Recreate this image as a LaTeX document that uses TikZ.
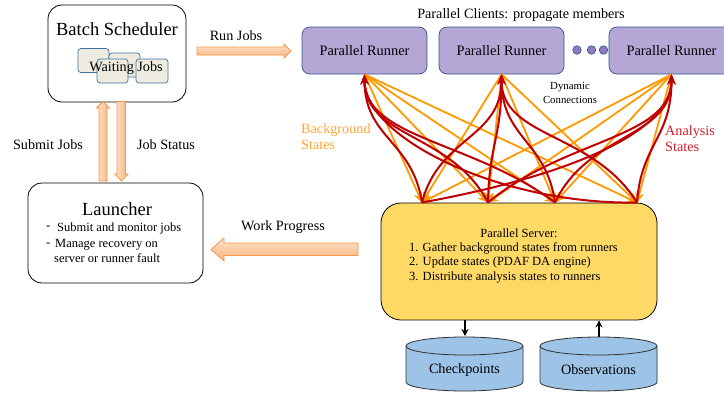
\documentclass[tikz,border=0pt]{standalone}
\usepackage{fontspec}
\setmainfont{Liberation Serif}
\usetikzlibrary{arrows.meta,calc}
\definecolor{runfill}{HTML}{B4A7D6}
\definecolor{runedge}{HTML}{2F528F}
\definecolor{srvfill}{HTML}{FFD966}
\definecolor{cylfill}{HTML}{9DC3E6}
\definecolor{wjfill}{HTML}{EEECE1}
\definecolor{wjedge}{HTML}{41719C}
\definecolor{bgorange}{HTML}{FF9900}
\definecolor{anred}{HTML}{C00000}
\definecolor{antext}{HTML}{D0202A}
\definecolor{bgtext}{HTML}{FFA533}
\definecolor{fattop}{HTML}{FDE3CC}
\definecolor{fatbot}{HTML}{F9B37C}
\definecolor{fatedge}{HTML}{F79646}
\definecolor{dotfill}{HTML}{8E7CC3}
\tikzset{
  bigbox/.style={draw=black, line width=0.8pt, rounded corners=14pt, fill=white, inner sep=0pt},
  runner/.style={draw=runedge, fill=runfill, rounded corners=8pt, minimum width=125pt, minimum height=47pt, inner sep=0pt, font=\fontsize{14.4}{16}\selectfont, line width=0.7pt},
  wjbox/.style={draw=wjedge, fill=wjfill, rounded corners=3pt, minimum width=31pt, minimum height=24pt, line width=0.7pt, inner sep=0pt},
  lbl/.style={font=\fontsize{14.2}{16}\selectfont, inner sep=0pt},
  bigtitle/.style={font=\fontsize{18.5}{20}\selectfont, inner sep=0pt},
  smalltxt/.style={font=\fontsize{12.5}{14}\selectfont, inner sep=0pt},
  tinytxt/.style={font=\fontsize{10.8}{12}\selectfont, inner sep=0pt},
  bgline/.style={draw=bgorange, line width=1.8pt, -{Stealth[length=10pt,width=9pt]}},
  anline/.style={draw=anred, line width=2pt, -{Stealth[length=10pt,width=8pt]}},
  fatarrowh/.style={draw=fatedge, top color=fattop, bottom color=fatbot, line width=0.8pt},
  fatarrowv/.style={draw=fatedge, left color=fattop, right color=fatbot, line width=0.8pt},
  cyl/.style={draw=black!80, fill=cylfill, line width=0.8pt},
  blk/.style={draw=black, line width=1.6pt, -{Stealth[length=7pt,width=7pt]}},
  pdot/.style={circle, draw=runedge, fill=dotfill, minimum size=8.5pt, inner sep=0pt, line width=0.6pt}
}
\begin{document}
\begin{tikzpicture}[x=1pt,y=-1pt]
\useasboundingbox (0,0) rectangle (724,392);
\clip (0,0) rectangle (724,392);

% Batch scheduler
\node[bigbox, minimum width=138pt, minimum height=97pt] (sched) at (117,53.5) {};
\node[bigtitle] (schedt) at (117,29) {Batch Scheduler};
\node[wjbox] (wj1) at (93.5,60.5) {};
\node[wjbox] (wj2) at (124.5,65) {};
\node[wjbox] (wj3) at (112.5,71) {};
\node[wjbox, minimum width=32pt] (wj4) at (152,71) {};
\node[lbl] (wjt) at (126,68) {Waiting Jobs};

% Launcher
\node[bigbox, minimum width=175pt, minimum height=100pt] (launch) at (115.5,233) {};
\node[bigtitle] (launcht) at (117,209) {Launcher};
\node[smalltxt, anchor=west] (d1) at (46,228) {-};
\node[smalltxt, anchor=west] (b1) at (57,228) {Submit and monitor jobs};
\node[smalltxt, anchor=west] (d2) at (46,244.5) {-};
\node[smalltxt, anchor=west] (b2) at (55,244.5) {Manage recovery on};
\node[smalltxt, anchor=west] (b3) at (54,258) {server or runner fault};

% Runners
\node[lbl] (clients) at (521,15) {Parallel Clients: propagate members};
\node[runner] (r1) at (364.5,50.5) {Parallel Runner};
\node[runner] (r2) at (501.5,50.5) {Parallel Runner};
\node[runner] (r3) at (671.5,50.5) {Parallel Runner};
\node[pdot] (p1) at (577,50) {};
\node[pdot] (p2) at (591.5,50) {};
\node[pdot] (p3) at (603.5,50) {};
\node[tinytxt] (dyn1) at (570,87) {Dynamic};
\node[tinytxt] (dyn2) at (570,100) {Connections};

% Server
\node[draw=black, line width=0.8pt, fill=srvfill, rounded corners=20pt, minimum width=276pt, minimum height=117pt] (server) at (519,261.5) {};
\node[smalltxt] (srvt) at (519,233) {Parallel Server:};
\node[smalltxt, anchor=west] (l1) at (409,248) {1. Gather background states from runners};
\node[smalltxt, anchor=west] (l2) at (409,263) {2. Update states (PDAF DA engine)};
\node[smalltxt, anchor=west] (l3) at (409,278) {3. Distribute analysis states to runners};

\coordinate (s1) at (422,202.5);
\coordinate (s2) at (488,202.5);
\coordinate (s3) at (555,202.5);
\coordinate (s4) at (637,202.5);

% Background states (runners -> server)
\foreach \r in {r1,r2,r3}{
  \foreach \s in {s1,s2,s3,s4}{
    \draw[bgline] (\r.south) -- (\s);
  }
}
% Analysis states (server -> runners)
\foreach \r in {r1,r2,r3}{
  \foreach \s in {s1,s2,s3,s4}{
    \draw[anline] let \p1=(\s), \p2=(\r.south),
        \n1={80*(abs(\x2-\x1)/250)^1.5},
        \n2={90-sign(\x2-\x1)*\n1},
        \n3={veclen(\x2-\x1,\y2-\y1)} in
      (\p1) .. controls ({\x1+0.45*\n3*cos(\n2)},{\y1+0.45*\n3*sin(\n2)}) and ({\x2},{\y2-0.5*(\y2-\y1)}) .. (\p2);
  }
}
\node[lbl, text=bgtext, align=left, anchor=north west] (bgt) at (301,123) {Background\\States};
\node[lbl, text=antext, align=left, anchor=north west] (ant) at (665,125) {Analysis\\States};

% Cylinders
\fill[cylfill] (406,346) -- (406,382) arc[start angle=180, end angle=360, x radius=58.5pt, y radius=9pt] -- (523,346) -- cycle;
\draw[cyl] (406,346) -- (406,382) arc[start angle=180, end angle=360, x radius=58.5pt, y radius=9pt] -- (523,346);
\draw[cyl] (464.5,346) ellipse[x radius=58.5pt, y radius=9pt];
\node[lbl] (ckpt) at (464.5,370) {Checkpoints};
\coordinate (cktop) at (465,336);

\fill[cylfill] (540,346) -- (540,382) arc[start angle=180, end angle=360, x radius=58.5pt, y radius=9pt] -- (657,346) -- cycle;
\draw[cyl] (540,346) -- (540,382) arc[start angle=180, end angle=360, x radius=58.5pt, y radius=9pt] -- (657,346);
\draw[cyl] (598.5,346) ellipse[x radius=58.5pt, y radius=9pt];
\node[lbl] (obs) at (598.5,370) {Observations};
\coordinate (obtop) at (599,337);

\draw[blk] (server.south -| cktop) -- (cktop);
\draw[blk] (obtop) -- (server.south -| obtop);

% Block arrows
% Run Jobs (right)
\draw[fatarrowh] (197,47) -- (284,47) -- (284,44) -- (291,51) -- (284,58) -- (284,55) -- (197,55) -- cycle;
\node[lbl] (runj) at (236,36) {Run Jobs};
% Submit Jobs (up)
\draw[fatarrowv] (99,181) -- (99,108) -- (96.5,108) -- (103,101.5) -- (109.5,108) -- (107,108) -- (107,181) -- cycle;
\node[lbl] (subj) at (48,145) {Submit Jobs};
% Job Status (down)
\draw[fatarrowv] (117,101.5) -- (117,174) -- (115,174) -- (121.5,181) -- (128,174) -- (125.5,174) -- (125.5,101.5) -- cycle;
\node[lbl] (jobs) at (166,145) {Job Status};
% Work Progress (left)
\draw[fatarrowh] (358,243) -- (224,243) -- (224,238) -- (211,249.5) -- (224,261) -- (224,255.5) -- (358,255.5) -- cycle;
\node[lbl] (workp) at (283,227) {Work Progress};
\end{tikzpicture}
\end{document}
